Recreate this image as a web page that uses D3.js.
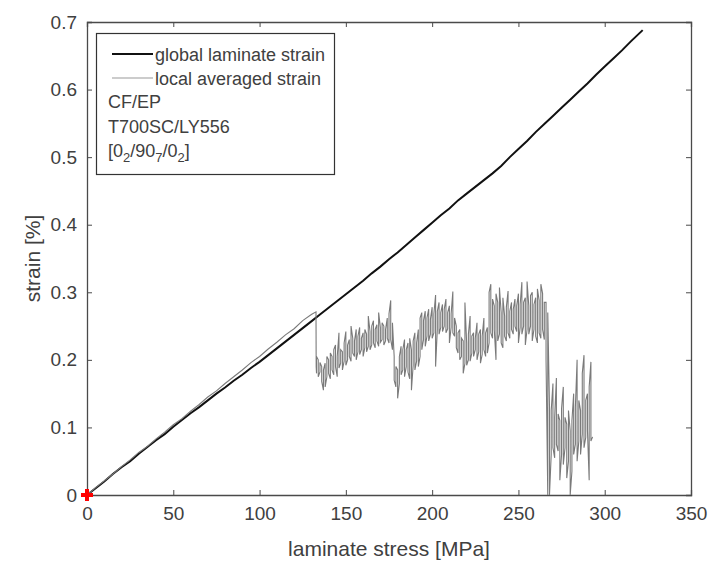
<!DOCTYPE html>
<html><head><meta charset="utf-8">
<script src="https://cdn.jsdelivr.net/npm/d3@7"></script>
<style>body{margin:0;background:#fff}text{font-family:"Liberation Sans",Arial,sans-serif}</style></head>
<body><svg id="c" width="713" height="563"></svg>
<script>
// ---- data ----
const xTicks = [0, 50, 100, 150, 200, 250, 300, 350];
const yTicks = [0, 0.1, 0.2, 0.3, 0.4, 0.5, 0.6, 0.7];
const xLabel = "laminate stress [MPa]";
const yLabel = "strain [%]";
const legendLabels = ["global laminate strain", "local averaged strain"];
const infoLines = ["CF/EP", "T700SC/LY556"];
const layupParts = [["[0", 0], ["2", 1], ["/90", 0], ["7", 1], ["/0", 0], ["2", 1], ["]", 0]];

const globalStress = [0,5,10,15,20,25,30,35,40,45,50,55,60,65,70,75,80,85,90,95,100,105,110,115,120,125,130,135,140,145,150,155,160,165,170,175,180,185,190,195,200,205,210,215,220,225,230,235,240,245,250,255,260,265,270,275,280,285,290,295,300,305,310,315,322];
const globalStrain = [0,0.010,0.020,0.031,0.041,0.050,0.061,0.071,0.081,0.090,0.101,0.111,0.121,0.130,0.140,0.150,0.159,0.169,0.178,0.188,0.197,0.207,0.217,0.227,0.237,0.247,0.257,0.267,0.277,0.287,0.297,0.307,0.317,0.328,0.338,0.349,0.359,0.370,0.381,0.392,0.403,0.414,0.424,0.436,0.446,0.456,0.466,0.476,0.487,0.500,0.512,0.524,0.537,0.549,0.561,0.573,0.585,0.597,0.609,0.622,0.634,0.646,0.658,0.671,0.688];

// local averaged strain, before the jump
const localStress = [0,5,10,15,20,25,30,35,40,45,50,55,60,65,70,75,80,85,90,95,100,105,110,115,120,125,130,132.7,132.8];
const localStrain = [0,0.011,0.021,0.031,0.042,0.052,0.063,0.072,0.083,0.093,0.104,0.113,0.124,0.134,0.145,0.154,0.165,0.175,0.185,0.196,0.205,0.216,0.226,0.237,0.246,0.258,0.267,0.271,0.190];

// local averaged strain, noisy part: lower and upper value in each 1 MPa bin
const noiseStress = [133,134,135,136,137,138,139,140,141,142,143,144,145,146,147,148,149,150,151,152,153,154,155,156,157,158,159,160,161,162,163,164,165,166,167,168,169,170,171,172,173,174,175,176,177,178,179,180,181,182,183,184,185,186,187,188,189,190,191,192,193,194,195,196,197,198,199,200,201,202,203,204,205,206,207,208,209,210,211,212,213,214,215,216,217,218,219,220,221,222,223,224,225,226,227,228,229,230,231,232,233,234,235,236,237,238,239,240,241,242,243,244,245,246,247,248,249,250,251,252,253,254,255,256,257,258,259,260,261,262,263,264,265,266,267,268,269,270,271,272,273,274,275,276,277,278,279,280,281,282,283,284,285,286,287,288,289,290,291,292];
const noiseLo = [0.180,0.175,0.182,0.168,0.155,0.160,0.175,0.180,0.172,0.185,0.178,0.190,0.175,0.188,0.195,0.185,0.198,0.192,0.200,0.205,0.198,0.210,0.205,0.200,0.212,0.208,0.215,0.205,0.218,0.212,0.220,0.215,0.222,0.225,0.218,0.228,0.220,0.226,0.230,0.222,0.228,0.232,0.225,0.230,0.215,0.170,0.160,0.143,0.165,0.178,0.185,0.175,0.190,0.182,0.172,0.155,0.192,0.185,0.198,0.190,0.205,0.215,0.230,0.220,0.235,0.228,0.238,0.232,0.240,0.190,0.245,0.238,0.248,0.242,0.250,0.240,0.246,0.225,0.248,0.240,0.235,0.218,0.210,0.200,0.205,0.180,0.195,0.192,0.200,0.198,0.210,0.205,0.215,0.200,0.212,0.195,0.208,0.215,0.205,0.210,0.225,0.240,0.232,0.245,0.200,0.228,0.238,0.225,0.218,0.235,0.228,0.240,0.232,0.245,0.238,0.250,0.242,0.225,0.248,0.238,0.250,0.222,0.245,0.238,0.250,0.228,0.245,0.235,0.225,0.240,0.232,0.245,0.230,0.200,0.000,0.000,0.060,0.070,0.055,0.075,0.065,0.022,0.060,0.045,0.070,0.025,0.050,0.000,0.035,0.060,0.075,0.050,0.080,0.060,0.090,0.070,0.085,0.095,0.022,0.080];
const noiseHi = [0.205,0.200,0.196,0.190,0.185,0.195,0.205,0.200,0.210,0.205,0.215,0.222,0.205,0.240,0.215,0.212,0.225,0.242,0.222,0.230,0.250,0.232,0.228,0.245,0.235,0.248,0.232,0.240,0.245,0.238,0.265,0.242,0.250,0.258,0.245,0.252,0.270,0.248,0.255,0.250,0.245,0.262,0.268,0.288,0.255,0.205,0.190,0.185,0.205,0.220,0.215,0.230,0.215,0.225,0.232,0.215,0.228,0.240,0.225,0.245,0.262,0.270,0.258,0.272,0.262,0.275,0.260,0.278,0.268,0.296,0.272,0.285,0.270,0.282,0.275,0.290,0.270,0.280,0.268,0.301,0.262,0.250,0.240,0.245,0.232,0.228,0.285,0.225,0.238,0.265,0.235,0.240,0.232,0.255,0.238,0.245,0.235,0.262,0.240,0.248,0.300,0.312,0.290,0.280,0.298,0.285,0.307,0.270,0.292,0.265,0.278,0.302,0.272,0.285,0.275,0.290,0.280,0.298,0.282,0.315,0.285,0.292,0.316,0.280,0.295,0.300,0.282,0.292,0.305,0.288,0.312,0.298,0.285,0.285,0.270,0.130,0.125,0.165,0.115,0.173,0.120,0.110,0.128,0.160,0.115,0.105,0.125,0.095,0.110,0.150,0.130,0.200,0.140,0.125,0.180,0.207,0.140,0.150,0.160,0.197];
const noiseEndStress = 293, noiseEndStrain = 0.086;

// ---- layout ----
const W = 713, H = 563;
const m = {left: 87, top: 22, right: 691, bottom: 495};
const svg = d3.select("#c");
const x = d3.scaleLinear().domain([0, 350]).range([m.left, m.right]);
const y = d3.scaleLinear().domain([0, 0.7]).range([m.bottom, m.top]);
const axisCol = "#4a4a4a", textCol = "#404040";

svg.append("rect").attr("width", W).attr("height", H).attr("fill", "#fff");

// axes
const tl = 5;
const gx = svg.append("g").attr("transform", `translate(0,${m.bottom})`)
  .call(d3.axisBottom(x).tickValues(xTicks).tickSize(-tl).tickPadding(14).tickFormat(d3.format("d")));
const gxt = svg.append("g").attr("transform", `translate(0,${m.top})`)
  .call(d3.axisTop(x).tickValues(xTicks).tickSize(-tl).tickFormat(""));
const gy = svg.append("g").attr("transform", `translate(${m.left},0)`)
  .call(d3.axisLeft(y).tickValues(yTicks).tickSize(-tl).tickPadding(14).tickFormat(d => d === 0 ? "0" : d3.format(".1f")(d)));
const gyr = svg.append("g").attr("transform", `translate(${m.right},0)`)
  .call(d3.axisRight(y).tickValues(yTicks).tickSize(-tl).tickFormat(""));
[gx, gxt, gy, gyr].forEach(g => {
  g.select(".domain").attr("stroke", axisCol).attr("stroke-width", 1.3);
  g.selectAll(".tick line").attr("stroke", axisCol).attr("stroke-width", 1);
  g.selectAll(".tick text").attr("fill", textCol).attr("font-size", 19)
   .attr("font-family", '"Liberation Sans", Arial, sans-serif');
});
gx.selectAll(".tick text").attr("dy", "0.6em");
gy.selectAll(".tick text").attr("dx", "4");

// lines
const line = d3.line().x(d => x(d[0])).y(d => y(d[1]));
const gData = globalStress.map((s, i) => [s, globalStrain[i]]);
svg.append("path").datum(gData).attr("d", line).attr("fill", "none")
  .attr("stroke", "#111").attr("stroke-width", 2);

const lData = localStress.map((s, i) => [s, localStrain[i]]);
noiseStress.forEach((s, i) => {
  if (i % 2 === 0) { lData.push([s, noiseLo[i]]); lData.push([s, noiseHi[i]]); }
  else { lData.push([s, noiseHi[i]]); lData.push([s, noiseLo[i]]); }
});
lData.push([noiseEndStress, noiseEndStrain]);
svg.append("path").datum(lData).attr("d", line).attr("fill", "none")
  .attr("stroke", "#7a7a7a").attr("stroke-width", 1.1);

// red start marker
const px0 = x(0), py0 = y(0);
svg.append("path").attr("d", `M${px0-6},${py0}H${px0+6}M${px0},${py0-6}V${py0+6}`)
  .attr("stroke", "#ff0000").attr("stroke-width", 4);

// legend
const lg = svg.append("g");
lg.append("rect").attr("x", 96.5).attr("y", 33.5).attr("width", 238).attr("height", 141)
  .attr("fill", "#fff").attr("stroke", "#333").attr("stroke-width", 1.2);
lg.append("line").attr("x1", 112).attr("x2", 153).attr("y1", 54).attr("y2", 54)
  .attr("stroke", "#111").attr("stroke-width", 2.2);
lg.append("line").attr("x1", 112).attr("x2", 153).attr("y1", 78).attr("y2", 78)
  .attr("stroke", "#999").attr("stroke-width", 1.2);
legendLabels.forEach((t, i) => lg.append("text").attr("x", 155).attr("y", 60.5 + i * 24)
  .attr("font-size", 18).attr("fill", textCol).text(t));
infoLines.forEach((t, i) => lg.append("text").attr("x", 108).attr("y", 108 + i * 24.5)
  .attr("font-size", 18).attr("fill", textCol).text(t));
const lay = lg.append("text").attr("x", 108).attr("y", 157)
  .attr("font-size", 18).attr("fill", textCol);
layupParts.forEach(([t, sub], i, arr) => {
  const prevSub = i > 0 ? arr[i - 1][1] : 0;
  lay.append("tspan").attr("dy", sub && !prevSub ? 5 : (!sub && prevSub ? -5 : 0))
    .attr("font-size", sub ? 13 : 18).text(t);
});

// axis labels
svg.append("text").attr("x", (m.left + m.right) / 2).attr("y", 556).attr("text-anchor", "middle")
  .attr("font-size", 21).attr("fill", textCol).text(xLabel);
svg.append("text").attr("transform", `translate(40,${(m.top + m.bottom) / 2}) rotate(-90)`)
  .attr("text-anchor", "middle").attr("font-size", 21).attr("fill", textCol).text(yLabel);
</script></body></html>
